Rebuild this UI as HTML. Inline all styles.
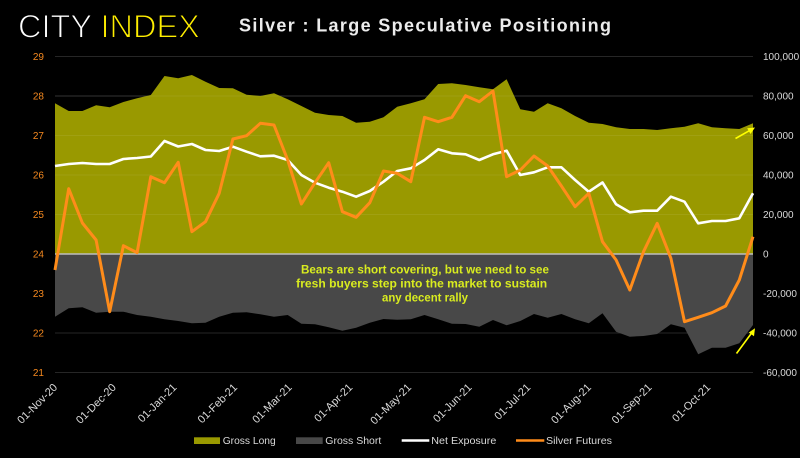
<!DOCTYPE html>
<html>
<head>
<meta charset="utf-8">
<style>
  html,body{margin:0;padding:0;background:#000;}
  svg{display:block;}
  text{font-family:"Liberation Sans",Arial,sans-serif;}
</style>
</head>
<body>
<svg width="800" height="458" viewBox="0 0 800 458" xmlns="http://www.w3.org/2000/svg">
  <rect x="0" y="0" width="800" height="458" fill="#000"/>

  <!-- Logo -->
  <text x="18" y="37.5" font-size="32.5" fill="#ffffff" stroke="#000" stroke-width="1.1">CITY <tspan fill="#ffee00">INDEX</tspan></text>
  <!-- Title -->
  <text x="239" y="31.5" font-size="18" font-weight="bold" fill="#ececec" textLength="372" lengthAdjust="spacing">Silver : Large Speculative Positioning</text>

  <!-- gridlines (under) -->
  <g stroke="#262626" stroke-width="1">
    <line x1="55" y1="56.5" x2="753" y2="56.5"/>
    <line x1="55" y1="96" x2="753" y2="96"/>
    <line x1="55" y1="135.5" x2="753" y2="135.5"/>
    <line x1="55" y1="175" x2="753" y2="175"/>
    <line x1="55" y1="214.5" x2="753" y2="214.5"/>
    <line x1="55" y1="293.5" x2="753" y2="293.5"/>
    <line x1="55" y1="333" x2="753" y2="333"/>
    <line x1="55" y1="372.5" x2="753" y2="372.5"/>
  </g>

  <!-- Gross Long -->
  <polygon fill="#999900" points="55,254 55,103.3 68.7,111 82.4,111 96.1,105.3 109.7,107.3 123.4,102 137.1,98.3 150.8,95 164.5,76 178.2,78.3 191.9,75 205.5,81.7 219.2,88 232.9,88.3 246.6,94.7 260.3,96 274,93.3 287.7,99.3 301.4,106 315,112.7 328.7,115 342.4,116 356.1,122.7 369.8,121.7 383.5,117.3 397.2,106.7 410.8,103.3 424.5,99.3 438.2,84 451.9,83.3 465.6,85 479.3,87.3 493,89.3 506.6,79.3 520.3,109.3 534,111.7 547.7,103.3 561.4,108.3 575.1,116 588.8,122.7 602.5,124 616.1,127.3 629.8,129 643.5,129 657.2,130 670.9,128.3 684.5,126.7 698.2,123.3 711.9,127.3 725.6,128.3 739.3,129 753,123.3 753,254"/>
  <!-- Gross Short -->
  <polygon fill="#484848" points="55,254 55,316.7 68.7,308.3 82.4,307.3 96.1,312.7 109.7,311.7 123.4,311.7 137.1,315 150.8,316.7 164.5,319.3 178.2,321 191.9,323.3 205.5,322.7 219.2,316.7 232.9,312.7 246.6,312.3 260.3,314.3 274,316.7 287.7,315 301.4,323.7 315,324.3 328.7,327.3 342.4,330.7 356.1,327.7 369.8,322.7 383.5,319 397.2,319.7 410.8,319.3 424.5,315 438.2,319.3 451.9,323.7 465.6,324 479.3,326.7 493,320 506.6,325.3 520.3,321 534,314 547.7,317.7 561.4,314 575.1,319.3 588.8,323.3 602.5,313.3 616.1,331.7 629.8,336.7 643.5,336 657.2,334 670.9,324.3 684.5,327.7 698.2,354.3 711.9,347.7 725.6,347.7 739.3,343.3 753,325 753,254"/>

  <!-- faint gridlines over olive -->
  <g stroke="rgba(255,255,255,0.07)" stroke-width="1">
    <line x1="55" y1="96" x2="753" y2="96"/>
    <line x1="55" y1="135.5" x2="753" y2="135.5"/>
    <line x1="55" y1="175" x2="753" y2="175"/>
    <line x1="55" y1="214.5" x2="753" y2="214.5"/>
  </g>

  <!-- zero line -->
  <line x1="55" y1="254" x2="753" y2="254" stroke="#bdbdbd" stroke-width="1.5"/>

  <!-- Net Exposure -->
  <polyline fill="none" stroke="#ffffff" stroke-width="2.6" stroke-linejoin="round" points="55,166 68.7,164 82.4,163 96.1,164 109.7,164 123.4,159 137.1,158 150.8,156.5 164.5,141 178.2,146.5 191.9,144 205.5,150 219.2,151 232.9,146.7 246.6,151.7 260.3,156.3 274,155.7 287.7,160 301.4,175 315,182.7 328.7,187.7 342.4,191.7 356.1,196.7 369.8,191 383.5,181.7 397.2,171 410.8,168.3 424.5,160 438.2,149.3 451.9,153.3 465.6,154.3 479.3,160 493,154.3 506.6,150.7 520.3,175 534,172.3 547.7,167.3 561.4,167.3 575.1,180 588.8,191.7 602.5,182.5 616.1,204.3 629.8,212.3 643.5,210.7 657.2,210.7 670.9,196.7 684.5,201.7 698.2,223.3 711.9,221 725.6,221 739.3,218.3 753,193.3"/>

  <!-- Silver Futures -->
  <polyline fill="none" stroke="#ff8c1a" stroke-width="3" stroke-linejoin="round" points="55,270 68.7,188.7 82.4,223 96.1,240 109.7,311.7 123.4,245.7 137.1,252.7 150.8,176.7 164.5,182.7 178.2,162.3 191.9,231.7 205.5,221.7 219.2,193.3 232.9,139 246.6,135.7 260.3,123.3 274,125 287.7,160 301.4,204 315,182.7 328.7,162.7 342.4,211.7 356.1,217.3 369.8,202.7 383.5,171 397.2,173.3 410.8,181.7 424.5,117.3 438.2,121.7 451.9,117.3 465.6,95.7 479.3,101.7 493,91 506.6,176.7 520.3,170 534,156 547.7,166 561.4,186 575.1,206.7 588.8,193.3 602.5,241.7 616.1,260 629.8,290 643.5,251.7 657.2,223.3 670.9,258.3 684.5,321.7 698.2,317.3 711.9,312.7 725.6,306 739.3,280 753,236.7"/>

  <!-- Annotation -->
  <g font-size="11.5" font-weight="bold" fill="#d9ec1f" text-anchor="middle">
    <text x="425" y="273.5" textLength="248" lengthAdjust="spacingAndGlyphs">Bears are short covering, but we need to see</text>
    <text x="421.7" y="287.5" textLength="251" lengthAdjust="spacingAndGlyphs">fresh buyers step into the market to sustain</text>
    <text x="425" y="301.5" textLength="86" lengthAdjust="spacingAndGlyphs">any decent rally</text>
  </g>

  <!-- Arrows -->
  <g stroke="#ffff00" stroke-width="1.6" fill="#ffff00">
    <line x1="735.5" y1="138.5" x2="750" y2="130.3"/>
    <polygon stroke="none" points="755,127.5 747.2,128.2 750.5,134"/>
    <line x1="736.5" y1="353.5" x2="752" y2="332.5"/>
    <polygon stroke="none" points="755,328.3 748.8,332.5 754,336.3"/>
  </g>

  <!-- Left axis labels -->
  <g font-size="10" fill="#f5891f" text-anchor="end">
    <text x="44" y="60">29</text>
    <text x="44" y="99.5">28</text>
    <text x="44" y="139">27</text>
    <text x="44" y="178.5">26</text>
    <text x="44" y="218">25</text>
    <text x="44" y="257.5">24</text>
    <text x="44" y="297">23</text>
    <text x="44" y="336.5">22</text>
    <text x="44" y="376">21</text>
  </g>

  <!-- Right axis labels -->
  <g font-size="10" fill="#d9d9d9">
    <text x="763" y="60">100,000</text>
    <text x="763" y="99.5">80,000</text>
    <text x="763" y="139">60,000</text>
    <text x="763" y="178.5">40,000</text>
    <text x="763" y="218">20,000</text>
    <text x="763" y="257.5">0</text>
    <text x="763" y="297">-20,000</text>
    <text x="763" y="336.5">-40,000</text>
    <text x="763" y="376">-60,000</text>
  </g>

  <!-- X axis labels -->
  <g font-size="11" fill="#d9d9d9" text-anchor="end">
    <text transform="translate(58,388) rotate(-45)">01-Nov-20</text>
    <text transform="translate(116.7,388) rotate(-45)">01-Dec-20</text>
    <text transform="translate(177.3,388) rotate(-45)">01-Jan-21</text>
    <text transform="translate(237.9,388) rotate(-45)">01-Feb-21</text>
    <text transform="translate(292.6,388) rotate(-45)">01-Mar-21</text>
    <text transform="translate(353.2,388) rotate(-45)">01-Apr-21</text>
    <text transform="translate(411.9,388) rotate(-45)">01-May-21</text>
    <text transform="translate(472.5,388) rotate(-45)">01-Jun-21</text>
    <text transform="translate(531.2,388) rotate(-45)">01-Jul-21</text>
    <text transform="translate(591.8,388) rotate(-45)">01-Aug-21</text>
    <text transform="translate(652.4,388) rotate(-45)">01-Sep-21</text>
    <text transform="translate(711.1,388) rotate(-45)">01-Oct-21</text>
  </g>

  <!-- Legend -->
  <g font-size="10.5" fill="#d9d9d9">
    <rect x="194" y="437.3" width="26" height="6.7" fill="#999900"/>
    <text x="222.7" y="444" textLength="53" lengthAdjust="spacingAndGlyphs">Gross Long</text>
    <rect x="296" y="437.3" width="26.7" height="6.7" fill="#484848"/>
    <text x="325.3" y="444" textLength="56" lengthAdjust="spacingAndGlyphs">Gross Short</text>
    <line x1="401.7" y1="440.5" x2="429.3" y2="440.5" stroke="#ffffff" stroke-width="2.6"/>
    <text x="431.3" y="444" textLength="65" lengthAdjust="spacingAndGlyphs">Net Exposure</text>
    <line x1="516" y1="440.5" x2="544.3" y2="440.5" stroke="#ff8c1a" stroke-width="2.6"/>
    <text x="546" y="444" textLength="66" lengthAdjust="spacingAndGlyphs">Silver Futures</text>
  </g>
</svg>
</body>
</html>
